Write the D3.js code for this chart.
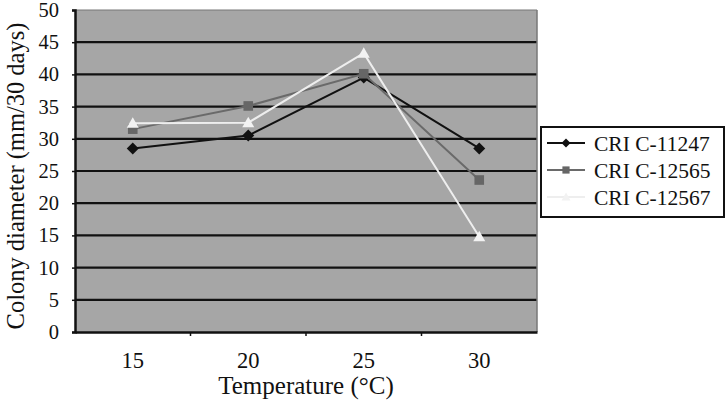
<!DOCTYPE html>
<html><head><meta charset="utf-8">
<script src="https://cdn.jsdelivr.net/npm/d3@7"></script>
<style>body{margin:0;background:#fff}svg{display:block}text{font-family:"Liberation Serif","Times New Roman",Times,"Tinos","DejaVu Serif",serif !important;fill:#111}</style>
</head><body><svg id="c" width="725" height="404"></svg>
<script>
const categories = ["15","20","25","30"];
const seriesNames = ["CRI C-11247","CRI C-12565","CRI C-12567"];
const s11247 = [28.5, 30.5, 39.5, 28.5];
const s12565 = [31.5, 35.1, 40.1, 23.6];
const s12567 = [32.4, 32.5, 43.3, 14.8];
const yTicks = [0,5,10,15,20,25,30,35,40,45,50];

const series = [
  {name: seriesNames[0], values: s11247, color: "#111", marker: "diamond", mfill: "#111"},
  {name: seriesNames[1], values: s12565, color: "#6a6a6a", marker: "square", mfill: "#666"},
  {name: seriesNames[2], values: s12567, color: "#eeeeee", marker: "triangle", mfill: "#f2f2f2"}
];

const svg = d3.select("#c");
const L = 75, R = 537, T = 10, B = 332;
const x = d3.scaleBand().domain(categories).range([L, R]);
const y = d3.scaleLinear().domain([0, 50]).range([B, T]);

svg.append("rect").attr("x", L).attr("y", T).attr("width", R - L).attr("height", B - T).attr("fill", "#a6a6a6");

svg.append("g").selectAll("line").data(yTicks.filter(d => d > 0 && d < 50)).join("line")
  .attr("x1", L).attr("x2", R).attr("y1", d => y(d)).attr("y2", d => y(d))
  .attr("stroke", "#111").attr("stroke-width", 2.2);

svg.append("line").attr("x1", L).attr("x2", R).attr("y1", T).attr("y2", T).attr("stroke", "#777").attr("stroke-width", 1);
svg.append("line").attr("x1", R).attr("x2", R).attr("y1", T).attr("y2", B).attr("stroke", "#777").attr("stroke-width", 1.5);

const yAxis = svg.append("g").attr("transform", `translate(${L},0)`)
  .call(d3.axisLeft(y).tickValues(yTicks).tickSize(3).tickPadding(13));
yAxis.attr("font-family", null);
yAxis.select(".domain").attr("stroke", "#111").attr("stroke-width", 2.5);
yAxis.selectAll(".tick line").attr("stroke", "#111").attr("stroke-width", 1.5);
yAxis.selectAll("text").style("font-size", "20.5px").attr("fill", "#111");

const xAxis = svg.append("g").attr("transform", `translate(0,${B})`)
  .call(d3.axisBottom(x).tickSize(0).tickPadding(20));
xAxis.attr("font-family", null);
xAxis.select(".domain").attr("stroke", "#111").attr("stroke-width", 2.5);
xAxis.selectAll("text").style("font-size", "22.5px").attr("fill", "#111");
svg.append("g").selectAll("line").data(categories.slice(1)).join("line")
  .attr("x1", d => x(d)).attr("x2", d => x(d)).attr("y1", B).attr("y2", B + 4)
  .attr("stroke", "#111").attr("stroke-width", 1.5);

svg.append("text").attr("x", (L + R) / 2).attr("y", 394).attr("text-anchor", "middle")
  .style("font-size", "25px").text("Temperature (°C)");
svg.append("text").attr("transform", `translate(24,${(T + B) / 2 + 5}) rotate(-90)`).attr("text-anchor", "middle")
  .style("font-size", "24.5px").text("Colony diameter (mm/30 days)");

const cx = d => x(d) + x.bandwidth() / 2;
const line = d3.line().x((d, i) => cx(categories[i])).y(d => y(d));

function drawMarker(g, type, px, py, fill, size) {
  if (type === "diamond") {
    g.append("path").attr("d", `M${px},${py - size}L${px + size},${py}L${px},${py + size}L${px - size},${py}Z`).attr("fill", fill);
  } else if (type === "square") {
    g.append("rect").attr("x", px - size * 0.8).attr("y", py - size * 0.8).attr("width", size * 1.6).attr("height", size * 1.6).attr("fill", fill);
  } else {
    g.append("path").attr("d", `M${px},${py - size}L${px + size},${py + size * 0.75}L${px - size},${py + size * 0.75}Z`).attr("fill", fill);
  }
}

series.forEach(s => {
  svg.append("path").datum(s.values).attr("d", line).attr("fill", "none")
    .attr("stroke", s.color).attr("stroke-width", 2);
  const g = svg.append("g");
  s.values.forEach((v, i) => drawMarker(g, s.marker, cx(categories[i]), y(v), s.mfill, 6));
});

const lg = svg.append("g");
lg.append("rect").attr("x", 541).attr("y", 127).attr("width", 183).attr("height", 90)
  .attr("fill", "#fff").attr("stroke", "#111").attr("stroke-width", 2);
series.forEach((s, i) => {
  const ly = 143 + i * 27;
  lg.append("line").attr("x1", 547).attr("x2", 585).attr("y1", ly).attr("y2", ly)
    .attr("stroke", s.color).attr("stroke-width", 2);
  drawMarker(lg, s.marker, 566, ly, s.mfill, 4.5);
  lg.append("text").attr("x", 594).attr("y", ly + 8).style("font-size", "21.5px").text(s.name);
});
</script></body></html>
